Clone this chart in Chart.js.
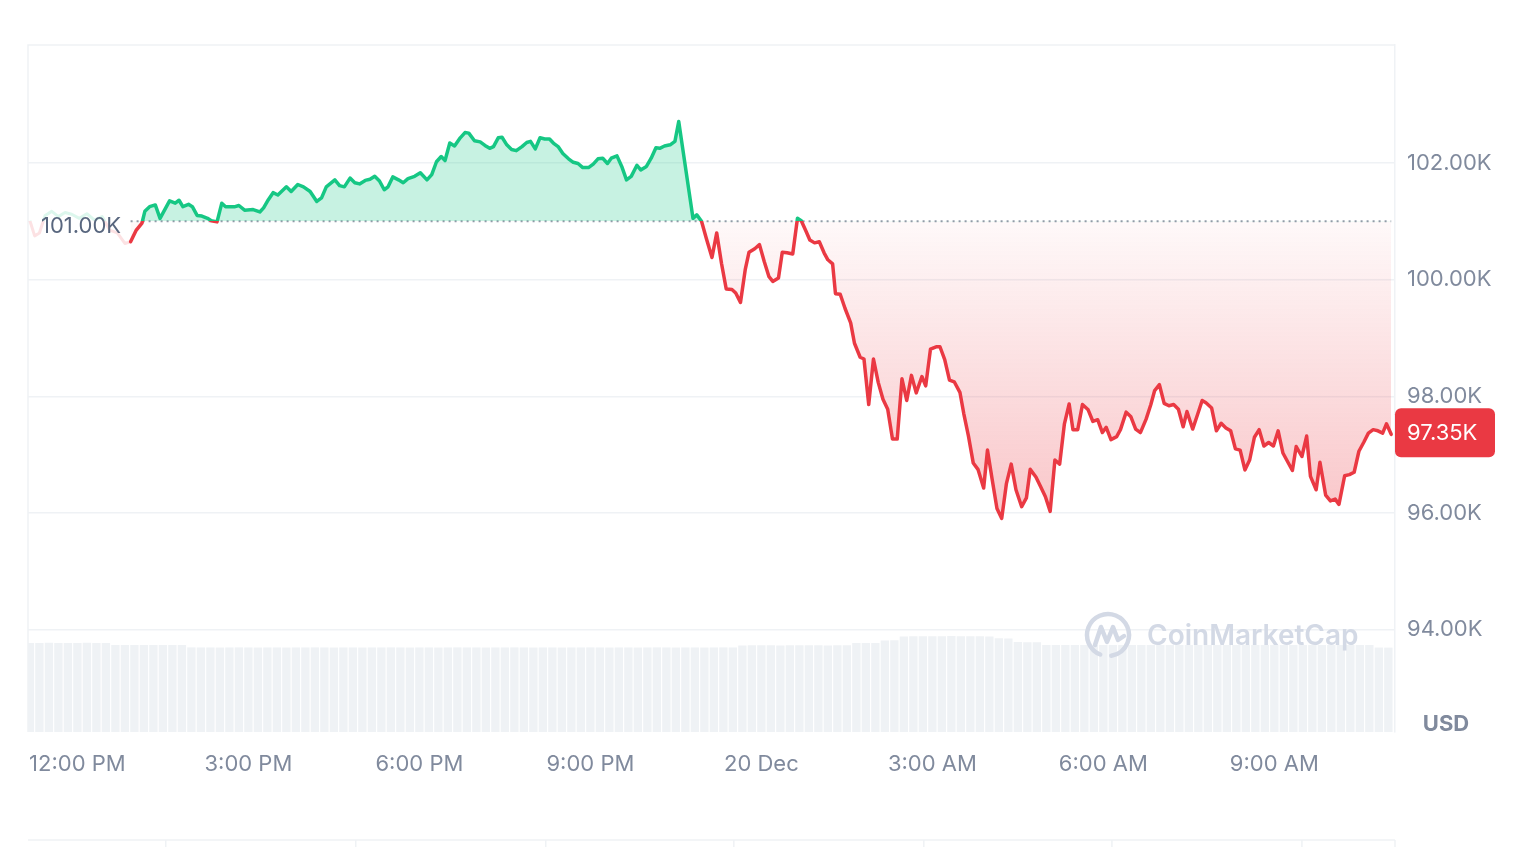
<!DOCTYPE html>
<html>
<head>
<meta charset="utf-8">
<script src="https://cdn.jsdelivr.net/npm/chart.js@4.4.1/dist/chart.umd.min.js"></script>
<style>
  html, body { margin: 0; padding: 0; background: #fff; }
  #wrap { width: 1516px; height: 847px; position: relative; }
</style>
</head>
<body>
<div id="wrap"><canvas id="priceChart"></canvas></div>
<script>
// minutes from 19 Dec 12:00 PM
const fadedTimes = [-50, -45, -40, -34, -27, -20, -13, -6, 2, 10, 18, 26, 34, 42, 50, 56];
const fadedPrices = [101.01, 100.75, 100.80, 101.10, 101.17, 101.08, 101.15, 101.12, 101.05, 101.13, 101.02, 101.08, 100.85, 100.80, 100.62, 100.65];

const times = [56,62,68,71,76,82,87,92,97,103,
  107,111,117,121,126,131,137,141,147,152,
  156,166,170,176,185,192,196,201,206,211,
  220,225,232,238,245,252,257,262,271,276,
  281,287,292,297,303,308,313,318,323,327,
  332,338,343,348,355,361,368,373,378,383,
  387,392,397,403,408,412,418,424,429,434,
  438,443,447,452,457,462,468,473,477,482,
  487,492,497,501,506,511,517,522,527,532,
  538,543,548,553,558,562,568,573,578,583,
  589,593,599,604,609,613,618,624,629,633,
  648,652,657,662,668,673,678,683,689,693,
  698,703,707,713,718,723,728,732,738,742,
  747,753,758,762,767,771,776,781,786,790,
  795,798,803,808,814,818,824,828,833,838,
  843,848,853,858,863,868,873,878,883,889,
  893,898,904,908,913,918,923,929,933,938,
  943,948,954,958,963,968,973,978,983,988,
  994,999,1003,1009,1014,1019,1024,1029,1034,1039,
  1044,1048,1053,1058,1064,1069,1074,1079,1083,1088,
  1094,1098,1104,1109,1114,1119,1125,1130,1134,1139,
  1144,1149,1154,1159,1164,1168,1174,1179,1184,1188,
  1194,1199,1204,1209,1214,1219,1224,1229,1234,1239,
  1244,1249,1254,1259,1264,1269,1274,1279,1283,1289,
  1294,1298,1304,1308,1314,1319,1324,1328,1334,1339,
  1344,1349,1354,1359,1364,1369,1374,1378,1383];

// price in thousands USD
const prices = [100.65,100.85,100.97,101.17,101.25,101.28,101.05,101.20,101.35,101.31,
  101.36,101.25,101.29,101.25,101.10,101.09,101.05,101.01,100.99,101.31,
  101.25,101.25,101.27,101.19,101.20,101.16,101.23,101.37,101.49,101.45,
  101.59,101.51,101.63,101.59,101.51,101.34,101.40,101.59,101.71,101.61,
  101.59,101.74,101.66,101.64,101.70,101.72,101.77,101.69,101.54,101.59,
  101.76,101.71,101.66,101.73,101.77,101.83,101.71,101.80,102.02,102.11,
  102.04,102.34,102.29,102.43,102.52,102.51,102.38,102.36,102.30,102.25,
  102.28,102.43,102.44,102.31,102.23,102.21,102.28,102.35,102.37,102.24,
  102.43,102.41,102.41,102.34,102.28,102.16,102.07,102.01,101.99,101.92,
  101.92,101.98,102.07,102.08,101.99,102.08,102.12,101.94,101.71,101.77,
  101.96,101.88,101.94,102.08,102.26,102.25,102.29,102.31,102.37,102.71,
  101.05,101.11,101.00,100.71,100.38,100.80,100.28,99.84,99.83,99.77,
  99.61,100.17,100.47,100.53,100.60,100.31,100.05,99.97,100.03,100.47,
  100.46,100.44,101.05,101.01,100.83,100.68,100.63,100.65,100.46,100.34,
  100.27,99.76,99.75,99.51,99.26,98.91,98.67,98.64,97.86,98.64,
  98.24,97.95,97.78,97.27,97.27,98.30,97.93,98.36,98.06,98.34,
  98.18,98.81,98.85,98.85,98.63,98.28,98.25,98.07,97.71,97.32,
  96.86,96.75,96.43,97.08,96.57,96.08,95.91,96.51,96.84,96.40,
  96.11,96.26,96.75,96.62,96.45,96.28,96.03,96.91,96.84,97.53,
  97.87,97.43,97.43,97.86,97.77,97.57,97.60,97.38,97.47,97.26,
  97.31,97.43,97.73,97.65,97.44,97.38,97.61,97.86,98.10,98.20,
  97.88,97.84,97.86,97.78,97.48,97.74,97.44,97.68,97.93,97.89,
  97.80,97.41,97.54,97.46,97.41,97.10,97.08,96.74,96.91,97.30,
  97.43,97.15,97.21,97.15,97.41,97.03,96.88,96.73,97.14,96.97,
  97.32,96.63,96.40,96.87,96.31,96.21,96.24,96.15,96.64,96.66,
  96.70,97.06,97.21,97.37,97.43,97.41,97.37,97.53,97.35];

const openPrice = 101.00;

// 24h volume (billions USD), one bar every 10 minutes starting at -50
const volStart = -50;
const volumes = [
  110.2,110.1,110.3,110.2,110.1,110.2,110.3,110.1,110.0,
  107.6,107.7,107.5,107.6,107.6,107.7,107.5,107.6,
  104.7,104.6,104.6,104.5,104.6,104.7,104.6,104.5,104.6,104.6,
  104.5,104.6,104.6,104.7,104.6,104.5,104.6,104.6,104.5,104.6,
  104.6,104.7,104.6,104.5,104.6,104.6,104.5,104.6,104.7,104.6,
  104.6,104.5,104.6,104.6,104.7,104.6,104.5,104.6,104.6,104.5,
  104.6,104.6,104.7,104.6,104.5,104.6,104.6,104.5,104.6,104.7,
  104.6,104.5,104.6,104.6,104.5,104.6,104.7,104.6,
  107.1,107.2,107.3,107.2,107.1,107.2,107.3,107.2,107.2,107.1,107.3,107.2,
  110.0,110.1,110.2,
  113.1,113.4,
  118.2,118.5,118.6,118.4,118.5,118.7,118.5,118.4,118.5,118.3,
  116.1,115.8,
  111.2,111.0,110.9,
  107.7,107.6,107.5,107.6,107.6,107.7,107.6,107.5,107.6,107.6,
  107.5,107.6,107.7,107.6,107.6,107.5,107.6,107.6,107.7,107.6,
  107.5,107.6,107.6,107.7,107.6,107.5,107.6,107.6,107.5,107.6,
  107.7,107.6,107.6,107.5,107.6,
  104.5,104.4];

const tickMinutes = [0, 180, 360, 540, 720, 900, 1080, 1260];
const tickLabels = ['12:00 PM', '3:00 PM', '6:00 PM', '9:00 PM', '20 Dec', '3:00 AM', '6:00 AM', '9:00 AM'];
const priceTicks = [94, 96, 98, 100, 102];
const navMinutes = [93, 293, 493, 691, 891, 1089, 1289];

const green = '#16c784';
const red = '#ea3943';
const gridColor = '#eff2f5';
const labelColor = '#808a9d';

Chart.defaults.font.family = 'Inter, "Noto Sans", sans-serif';

function splitGradient(chart, top, bottom) {
  const { ctx, chartArea, scales } = chart;
  const yb = scales.y.getPixelForValue(openPrice);
  const f = Math.min(1, Math.max(0, (yb - chartArea.top) / (chartArea.bottom - chartArea.top)));
  const g = ctx.createLinearGradient(0, chartArea.top, 0, chartArea.bottom);
  g.addColorStop(0, top);
  g.addColorStop(f, top);
  g.addColorStop(f, bottom);
  g.addColorStop(1, bottom);
  return g;
}

function redFill(chart) {
  const { ctx, scales } = chart;
  const y0 = scales.y.getPixelForValue(openPrice);
  const y1 = scales.y.getPixelForValue(Math.min(...prices));
  const g = ctx.createLinearGradient(0, y0, 0, y1);
  g.addColorStop(0, 'rgba(234,57,67,0.03)');
  g.addColorStop(1, 'rgba(234,57,67,0.29)');
  return g;
}

const decorations = {
  id: 'decorations',
  beforeDraw(chart) {
    const { ctx, chartArea: a, scales } = chart;
    ctx.save();
    ctx.strokeStyle = gridColor;
    ctx.lineWidth = 1.5;
    ctx.beginPath();
    ctx.moveTo(a.left, a.bottom);
    ctx.lineTo(a.left, a.top);
    ctx.lineTo(a.right, a.top);
    ctx.stroke();
    // navigator strip at the bottom
    ctx.beginPath();
    ctx.moveTo(a.left, 840);
    ctx.lineTo(a.right, 840);
    navMinutes.forEach(m => {
      const x = scales.x.getPixelForValue(m);
      ctx.moveTo(x, 840);
      ctx.lineTo(x, 847);
    });
    ctx.moveTo(a.right, 840);
    ctx.lineTo(a.right, 847);
    ctx.stroke();
    ctx.restore();
  },
  afterDraw(chart) {
    const { ctx, chartArea: a, scales } = chart;
    ctx.save();
    // open price label
    ctx.font = '22px Inter';
    ctx.fillStyle = '#58667e';
    ctx.textBaseline = 'middle';
    ctx.textAlign = 'left';
    ctx.fillText(openPrice.toFixed(2) + 'K', 41, scales.y.getPixelForValue(openPrice) + 5);

    // current price badge
    const last = prices[prices.length - 1];
    const yl = scales.y.getPixelForValue(last);
    ctx.fillStyle = red;
    ctx.beginPath();
    ctx.roundRect(a.right, yl - 26, 100, 49, 6);
    ctx.fill();
    ctx.fillStyle = '#ffffff';
    ctx.fillText(last.toFixed(2) + 'K', a.right + 12, yl - 1);

    // currency
    ctx.font = 'bold 22px Inter';
    ctx.fillStyle = labelColor;
    ctx.textAlign = 'center';
    ctx.fillText('USD', 1446, 724);

    // watermark
    const wc = '#d3d9e5';
    ctx.strokeStyle = wc;
    ctx.lineWidth = 4.5;
    ctx.lineCap = 'round';
    ctx.lineJoin = 'round';
    ctx.beginPath();
    ctx.arc(1108, 635, 21, Math.PI * 0.62, Math.PI * 2.45);
    ctx.stroke();
    ctx.beginPath();
    ctx.moveTo(1095, 645);
    ctx.lineTo(1101, 627);
    ctx.lineTo(1107, 642);
    ctx.lineTo(1113, 627);
    ctx.lineTo(1118, 640);
    ctx.lineTo(1124, 636);
    ctx.stroke();
    ctx.font = '600 28px Inter';
    ctx.fillStyle = wc;
    ctx.textAlign = 'left';
    ctx.fillText('CoinMarketCap', 1147, 637);
    ctx.restore();
  }
};

const ctx = document.getElementById('priceChart').getContext('2d');

new Chart(ctx, {
  type: 'line',
  data: {
    datasets: [{
      label: 'Price',
      data: times.map((t, i) => ({ x: t, y: prices[i] })),
      borderColor: c => c.chart.chartArea ? splitGradient(c.chart, green, red) : green,
      borderWidth: 3.5,
      borderJoinStyle: 'round',
      borderCapStyle: 'round',
      pointRadius: 0,
      tension: 0,
      fill: c => c.chart.chartArea ? {
        target: { value: openPrice },
        above: 'rgba(22,199,132,0.24)',
        below: redFill(c.chart)
      } : false,
      order: 1
    }, {
      label: 'Earlier',
      data: fadedTimes.map((t, i) => ({ x: t, y: fadedPrices[i] })),
      borderColor: c => c.chart.chartArea ? splitGradient(c.chart, 'rgba(22,199,132,0.15)', 'rgba(234,57,67,0.15)') : green,
      borderWidth: 3,
      borderJoinStyle: 'round',
      pointRadius: 0,
      fill: false,
      order: 2
    }, {
      label: 'Open',
      data: [{ x: times[0], y: openPrice }, { x: times[times.length - 1], y: openPrice }],
      borderColor: '#959cab',
      borderWidth: 2,
      borderDash: [2, 4],
      pointRadius: 0,
      fill: false,
      order: 2
    }, {
      type: 'bar',
      label: 'Volume',
      data: volumes.map((v, i) => ({ x: volStart + i * 10, y: v })),
      yAxisID: 'vol',
      backgroundColor: '#eff2f5',
      barPercentage: 0.88,
      categoryPercentage: 1,
      order: 3
    }]
  },
  options: {
    responsive: true,
    maintainAspectRatio: false,
    animation: false,
    layout: { padding: { left: 28, top: 45, right: 0, bottom: 0 } },
    plugins: {
      legend: { display: false },
      tooltip: { enabled: false }
    },
    scales: {
      x: {
        type: 'linear',
        min: -52,
        max: 1387,
        offset: false,
        grid: { display: false, offset: false },
        border: { display: false },
        afterFit: s => { s.height = 115; },
        afterBuildTicks: s => { s.ticks = tickMinutes.map(v => ({ value: v })); },
        ticks: {
          autoSkip: false,
          maxRotation: 0,
          padding: 11,
          color: labelColor,
          font: { size: 22 },
          callback: v => tickLabels[tickMinutes.indexOf(v)]
        }
      },
      y: {
        position: 'right',
        min: 92.25,
        max: 104.02,
        grid: { color: gridColor, lineWidth: 1.5, drawTicks: false },
        border: { color: gridColor, width: 1.5 },
        afterFit: s => { s.width = 121; },
        afterBuildTicks: s => { s.ticks = priceTicks.map(v => ({ value: v })); },
        ticks: {
          padding: 12,
          color: labelColor,
          font: { size: 22 },
          callback: v => v.toFixed(2) + 'K'
        }
      },
      vol: {
        display: false,
        min: 0,
        max: 850
      }
    }
  },
  plugins: [decorations]
});
</script>
</body>
</html>
